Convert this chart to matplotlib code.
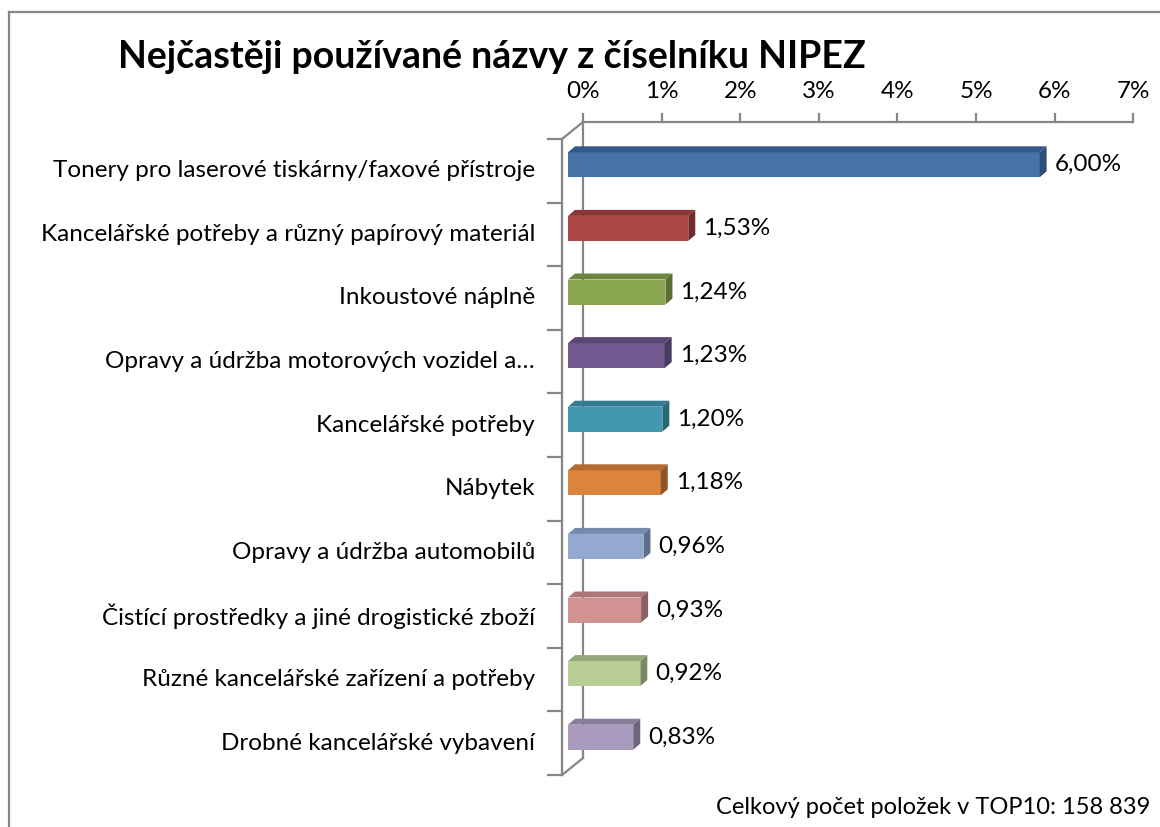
import matplotlib
matplotlib.use("Agg")
import matplotlib.pyplot as plt
from matplotlib.patches import Polygon
from matplotlib.lines import Line2D

plt.rcParams['font.family'] = ['Lato', 'DejaVu Sans']

title = "Nejčastěji používané názvy z číselníku NIPEZ"
footer = "Celkový počet položek v TOP10: 158 839"
categories = [
    "Tonery pro laserové tiskárny/faxové přístroje",
    "Kancelářské potřeby a různý papírový materiál",
    "Inkoustové náplně",
    "Opravy a údržba motorových vozidel a…",
    "Kancelářské potřeby",
    "Nábytek",
    "Opravy a údržba automobilů",
    "Čistící prostředky a jiné drogistické zboží",
    "Různé kancelářské zařízení a potřeby",
    "Drobné kancelářské vybavení",
]
values = [6.00, 1.53, 1.24, 1.23, 1.20, 1.18, 0.96, 0.93, 0.92, 0.83]
xticks = [0, 1, 2, 3, 4, 5, 6, 7]
xtick_labels = ["0%", "1%", "2%", "3%", "4%", "5%", "6%", "7%"]

front_colors = ["#4572A7", "#AA4643", "#89A54E", "#71588F", "#4198AF",
                "#DB843D", "#93A9CF", "#D19392", "#B9CD96", "#A99BBD"]
top_colors = ["#36598A", "#8C3735", "#6E8540", "#5B4774", "#347C8F",
              "#B36B31", "#7689AA", "#AA7776", "#96A77A", "#897E9A"]
side_colors = ["#2E4E78", "#6E2B2A", "#5A6D34", "#4A3A60", "#2A6676",
               "#8F5528", "#5F6F8B", "#8A6060", "#7A8863", "#6F667E"]

FS = 17.5
W, H = 1160, 827
fig = plt.figure(figsize=(W / 100, H / 100), dpi=100)
fig.patch.set_facecolor("white")

# front plane geometry (pixels)
x0, pxp = 562, 78.6           # 0% at front plane, pixels per percent
ytop, ybot = 139, 775
n = len(categories)
pxc = (ybot - ytop) / n
ax = fig.add_axes([x0 / W, (H - ybot) / H, 7 * pxp / W, (ybot - ytop) / H])
ax.set_xlim(0, 7)
ax.set_ylim(n - 0.5, -0.5)
ax.axis("off")

def dx(px):
    return px / pxp

def dy(px_up):
    return -px_up / pxc

grid_c = "#868686"
lw = 1.6
wdx, wdy = dx(21), dy(17)

# back wall vertical line
ax.plot([wdx, wdx], [-0.5 + wdy, n - 0.5 + wdy], color=grid_c, lw=lw, zorder=1, clip_on=False)
# diagonals
ax.plot([0, wdx], [-0.5, -0.5 + wdy], color=grid_c, lw=lw, zorder=1, clip_on=False)
ax.plot([0, wdx], [n - 0.5, n - 0.5 + wdy], color=grid_c, lw=lw, zorder=1, clip_on=False)
# top axis
ax.plot([wdx, 7 + wdx], [-0.5 + wdy, -0.5 + wdy], color=grid_c, lw=lw, zorder=1, clip_on=False)
for t, lab in zip(xticks, xtick_labels):
    ax.plot([t + wdx, t + wdx], [-0.5 + wdy, -0.5 + wdy + dy(8)], color=grid_c, lw=lw,
            zorder=1, clip_on=False)
    ax.text(t + wdx, -0.5 + wdy + dy(31), lab, ha="center", va="center", fontsize=FS,
            color="black")
# front wall line and category ticks
ax.plot([0, 0], [-0.5, n - 0.5], color=grid_c, lw=lw, zorder=5, clip_on=False)
for k in range(n + 1):
    ax.plot([dx(-14), 0], [k - 0.5, k - 0.5], color=grid_c, lw=lw, zorder=5, clip_on=False)

# bars
fx, fy = dx(6), dy(6)
bh = 25 / pxc
bdx, bdy = dx(7), dy(6)
ypos = [i + fy for i in range(n)]
ax.barh(ypos, values, left=fx, height=bh, color=front_colors, zorder=3, linewidth=0)
for i, v in enumerate(values):
    top = ypos[i] - bh / 2
    bot = ypos[i] + bh / 2
    ax.add_patch(Polygon([(fx, top), (fx + v, top), (fx + v + bdx, top + bdy), (fx + bdx, top + bdy)],
                         closed=True, facecolor=top_colors[i], edgecolor="none", zorder=3))
    ax.add_patch(Polygon([(fx + v, top), (fx + v, bot), (fx + v + bdx, bot + bdy), (fx + v + bdx, top + bdy)],
                         closed=True, facecolor=side_colors[i], edgecolor="none", zorder=3))
    ax.text(fx + v + dx(15), ypos[i], f"{v:.2f}".replace(".", ",") + "%", ha="left",
            va="center", fontsize=FS, color="black")
    ax.text(dx(-27), i, categories[i], ha="right", va="center", fontsize=FS, color="black")

fig.text(492 / W, 1 - 57 / H, title, ha="center", va="center", fontsize=27, fontweight="bold")
fig.text(1150 / W, 1 - 807 / H, footer, ha="right", va="center", fontsize=17)

# chart border (cropped at right and bottom)
fig.add_artist(Line2D([9 / W, 9 / W], [0, 1 - 12 / H], color=grid_c, lw=1.6, transform=fig.transFigure))
fig.add_artist(Line2D([9 / W, 1], [1 - 12 / H, 1 - 12 / H], color=grid_c, lw=1.6, transform=fig.transFigure))

fig.savefig("out.png", dpi=100)
